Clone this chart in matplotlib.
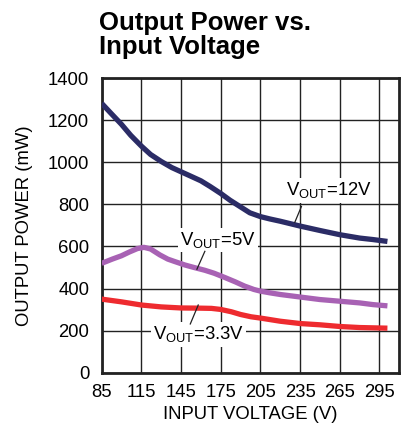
import numpy as np
import matplotlib
matplotlib.use("Agg")
from matplotlib import pyplot as plt

plt.rcParams['font.family'] = ['Liberation Sans', 'DejaVu Sans']
plt.rcParams['mathtext.fontset'] = 'custom'
plt.rcParams['mathtext.rm'] = 'Liberation Sans'

# Data
vin_12 = [85, 92, 100, 107, 115, 122, 130, 138, 145, 152, 160, 167, 175, 182, 190, 197, 205,
          212, 220, 235, 250, 265, 280, 290, 301]
p_12v = [1280, 1233, 1180, 1128, 1077, 1037, 1004, 975, 955, 935, 912, 885, 852, 820, 788, 760, 742,
         731, 720, 697, 676, 656, 640, 633, 624]

vin_5 = [85, 93, 100, 106, 112, 117, 122, 129, 135, 140, 148, 155, 163, 170, 178, 186, 193,
         200, 205, 212, 220, 235, 250, 265, 280, 290, 301]
p_5v = [520, 540, 556, 574, 590, 596, 588, 560, 540, 529, 512, 500, 487, 473, 453, 432, 412,
        396, 388, 380, 372, 360, 348, 340, 332, 324, 318]

vin_33 = [85, 100, 115, 130, 145, 160, 168, 175, 183, 190, 198, 205, 220, 235, 250, 265, 280, 301]
p_3v3 = [350, 337, 322, 313, 308, 307, 306, 301, 290, 277, 266, 260, 245, 234, 228, 220, 215, 212]

x_ticks = [85, 115, 145, 175, 205, 235, 265, 295]
y_ticks = [0, 200, 400, 600, 800, 1000, 1200, 1400]

fig = plt.figure(figsize=(4.05, 4.29), dpi=100)
ax = fig.add_axes([0.251, 0.131, 0.735, 0.687])

ax.plot(vin_12, p_12v, color='#2b2c66', lw=3.8, solid_capstyle='butt', solid_joinstyle='round', zorder=4)
ax.plot(vin_5, p_5v, color='#a862b4', lw=3.8, solid_capstyle='butt', solid_joinstyle='round', zorder=4)
ax.plot(vin_33, p_3v3, color='#ee2b2f', lw=3.8, solid_capstyle='butt', solid_joinstyle='round', zorder=4)

ax.set_xlim(85, 310)
ax.set_ylim(0, 1400)
ax.set_xticks(x_ticks)
ax.set_yticks(y_ticks)
ax.grid(True, color='#222222', lw=1.0)
ax.set_axisbelow(True)
ax.tick_params(length=0, labelsize=13.3)
ax.tick_params(axis='y', pad=9)
ax.tick_params(axis='x', pad=8)
for s in ax.spines.values():
    s.set_linewidth(2)
    s.set_color('#222222')

ax.set_xlabel('INPUT VOLTAGE (V)', fontsize=13.3, labelpad=4)
ax.set_ylabel('OUTPUT POWER (mW)', fontsize=13.3, labelpad=11)

# labels with leader lines
box = dict(facecolor='white', edgecolor='none', pad=1.5)
ax.text(257, 866, r'V$_{\mathrm{OUT}}$=12V', fontsize=13.3, ha='center', va='center', bbox=box, zorder=5)
ax.plot([236, 231], [790, 715], color='#222222', lw=0.9, zorder=5)
ax.text(173, 632, r'V$_{\mathrm{OUT}}$=5V', fontsize=13.3, ha='center', va='center', bbox=box, zorder=5)
ax.plot([163, 157], [577, 492], color='#222222', lw=0.9, zorder=5)
ax.text(158, 182, r'V$_{\mathrm{OUT}}$=3.3V', fontsize=13.3, ha='center', va='center', bbox=box, zorder=5)
ax.plot([158, 152], [322, 232], color='#222222', lw=0.9, zorder=5)

fig.text(0.245, 0.975, 'Output Power vs.\nInput Voltage', fontsize=18.5, fontweight='bold',
         ha='left', va='top', linespacing=1.0)

fig.savefig('out.png', dpi=100)
